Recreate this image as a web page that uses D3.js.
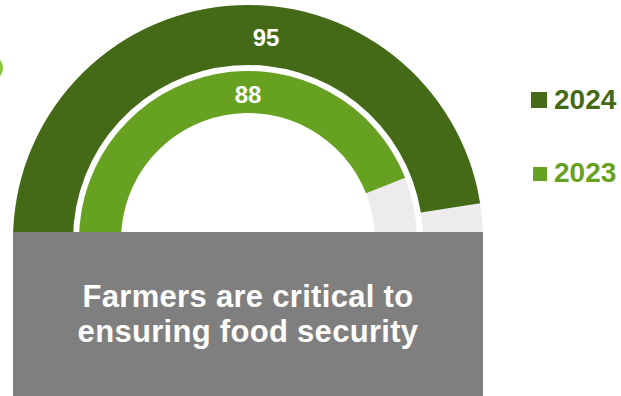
<!DOCTYPE html>
<html>
<head>
<meta charset="utf-8">
<script src="https://cdn.jsdelivr.net/npm/d3@7"></script>
<style>
  html, body { margin: 0; padding: 0; background: #ffffff; }
  svg { display: block; }
</style>
</head>
<body>
<svg id="chart" width="621" height="396"></svg>
<script>
// Survey share (%) agreeing with the statement, by year
const years = ["2024", "2023"];
const values = [95, 88];
const seriesColors = ["#446a17", "#66a121"];
const statementLines = ["Farmers are critical to", "ensuring food security"];
const maxValue = 100;

const svg = d3.select("#chart");
const W = 621, H = 396;

// gauge geometry
const cx = 248, cy = 240;
const rings = [
  { inner: 175, outer: 235 },   // 2024
  { inner: 127, outer: 169 }    // 2023
];
const trackColor = "#edebee";

// value -> angle, half circle from left (-90°) to right (+90°)
const angle = d3.scaleLinear().domain([0, maxValue]).range([-Math.PI / 2, Math.PI / 2]);

// decorative leaf tip at the left edge
svg.append("ellipse")
  .attr("cx", -6).attr("cy", 68).attr("rx", 9).attr("ry", 11)
  .attr("fill", "#8cc63e");

const g = svg.append("g").attr("transform", `translate(${cx},${cy})`);

values.forEach((v, i) => {
  const ring = rings[i];
  const arc = d3.arc().innerRadius(ring.inner).outerRadius(ring.outer);
  // track
  g.append("path")
    .attr("d", arc({ startAngle: angle(0), endAngle: angle(maxValue) }))
    .attr("fill", trackColor);
  // value
  g.append("path")
    .attr("d", arc({ startAngle: angle(0), endAngle: angle(v) }))
    .attr("fill", seriesColors[i]);
});

// value labels near the top of each ring
const labelShift = [18, 0];
values.forEach((v, i) => {
  const ring = rings[i];
  const rMid = (ring.inner + ring.outer) / 2;
  g.append("text")
    .attr("x", labelShift[i])
    .attr("y", -rMid + 11)
    .attr("text-anchor", "middle")
    .attr("font-family", "Liberation Sans, Arial, sans-serif")
    .attr("font-weight", "bold")
    .attr("font-size", 24)
    .attr("fill", "#ffffff")
    .text(v);
});

// statement panel covering the lower part
const panel = { x: 13, y: 232, w: 470 };
svg.append("rect")
  .attr("x", panel.x).attr("y", panel.y)
  .attr("width", panel.w).attr("height", H - panel.y)
  .attr("fill", "#7f7f7f");

const st = svg.append("text")
  .attr("text-anchor", "middle")
  .attr("font-family", "Liberation Sans, Arial, sans-serif")
  .attr("font-weight", "bold")
  .attr("font-size", 31)
  .attr("letter-spacing", 0.3)
  .attr("fill", "#ffffff");
statementLines.forEach((line, i) => {
  st.append("tspan")
    .attr("x", panel.x + panel.w / 2)
    .attr("y", 307 + i * 35)
    .text(line);
});

// legend
const legendY = [109, 182];
const swatch = [16, 14];
years.forEach((yr, i) => {
  svg.append("rect")
    .attr("x", 547 - swatch[i])
    .attr("y", legendY[i] - 1 - swatch[i])
    .attr("width", swatch[i]).attr("height", swatch[i])
    .attr("fill", seriesColors[i]);
  svg.append("text")
    .attr("x", 554)
    .attr("y", legendY[i])
    .attr("font-family", "Liberation Sans, Arial, sans-serif")
    .attr("font-weight", "bold")
    .attr("font-size", 28)
    .attr("fill", seriesColors[i])
    .text(yr);
});
</script>
</body>
</html>
